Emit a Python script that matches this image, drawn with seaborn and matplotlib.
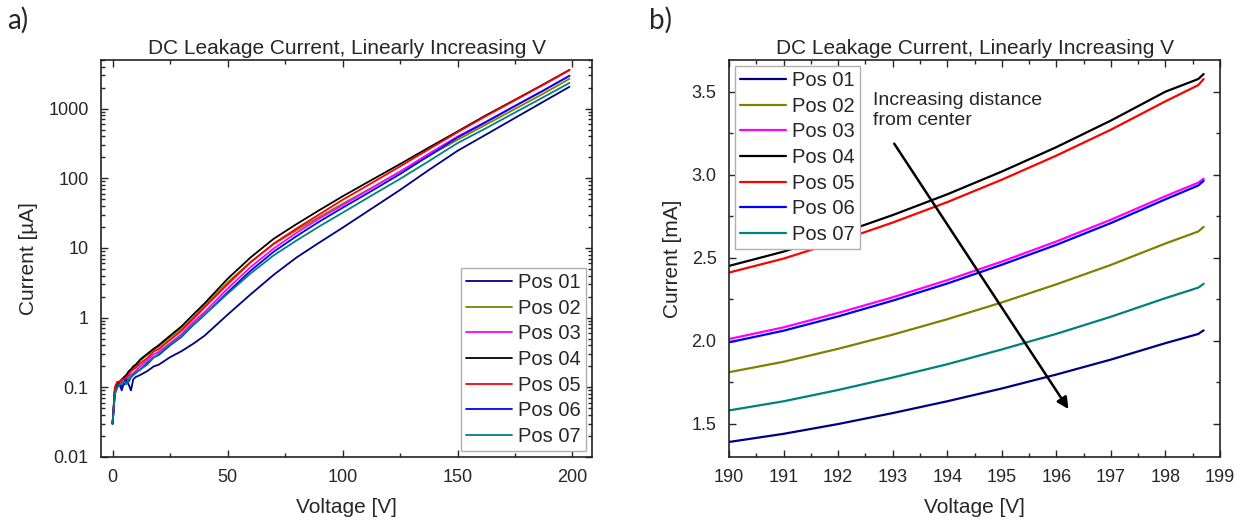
import numpy as np
import pandas as pd
import matplotlib
matplotlib.use("Agg")
import matplotlib.pyplot as plt
from matplotlib.ticker import MultipleLocator, LogLocator, NullFormatter, FixedLocator, FormatStrFormatter
import seaborn as sns

## positions and colours (Origin style)
positions = ["Pos 01", "Pos 02", "Pos 03", "Pos 04", "Pos 05", "Pos 06", "Pos 07"]
colors = ["#000080", "#808000", "#FF00FF", "#000000", "#FF0000", "#0000FF", "#008080"]

## a) full sweep, current in uA
volt_a = [0, 1, 2, 3, 4, 5, 6, 7, 8, 9, 10, 12, 15, 18, 20, 25, 30, 35, 40, 50, 60, 70, 80, 90, 100,
          112, 125, 137, 150, 162, 175, 187, 198.7]
cur_a_pos01 = [0.03, 0.09, 0.10, 0.12, 0.10, 0.11, 0.12, 0.11, 0.09, 0.13, 0.14, 0.15, 0.17, 0.20, 0.21, 0.27, 0.33, 0.42, 0.55,
               1.1, 2.15, 4.1, 7.3, 12.0, 19.5, 35.5, 68, 128, 248, 417, 735, 1240, 2060]
cur_a_pos02 = [0.03, 0.09, 0.11, 0.12, 0.12, 0.14, 0.15, 0.16, 0.18, 0.19, 0.20, 0.24, 0.29, 0.35, 0.38, 0.52, 0.70, 1.0, 1.5,
               3.2, 6.3, 11.3, 18, 28, 43, 71, 124, 205, 357, 582, 990, 1620, 2680]
cur_a_pos03 = [0.03, 0.09, 0.10, 0.11, 0.12, 0.12, 0.13, 0.14, 0.15, 0.16, 0.17, 0.20, 0.24, 0.30, 0.32, 0.43, 0.58, 0.85, 1.2,
               2.6, 5.3, 9.8, 16.5, 26.5, 41, 70, 125, 220, 398, 640, 1100, 1800, 2970]
cur_a_pos04 = [0.03, 0.09, 0.11, 0.12, 0.13, 0.14, 0.15, 0.17, 0.18, 0.20, 0.21, 0.25, 0.30, 0.36, 0.40, 0.55, 0.75, 1.1, 1.6,
               3.6, 7.3, 13.5, 22, 35, 55, 92, 160, 270, 470, 790, 1340, 2200, 3600]
cur_a_pos05 = [0.03, 0.10, 0.12, 0.12, 0.13, 0.13, 0.14, 0.15, 0.17, 0.18, 0.19, 0.22, 0.26, 0.33, 0.35, 0.48, 0.65, 0.95, 1.4,
               3.0, 6.2, 11.5, 19, 30.5, 49, 83, 148, 255, 458, 770, 1320, 2170, 3570]
cur_a_pos06 = [0.03, 0.08, 0.10, 0.11, 0.09, 0.12, 0.13, 0.12, 0.14, 0.15, 0.16, 0.18, 0.22, 0.27, 0.29, 0.40, 0.53, 0.78, 1.1,
               2.3, 4.7, 8.8, 14.8, 24, 37.7, 64, 115, 205, 385, 630, 1090, 1790, 2960]
cur_a_pos07 = [0.03, 0.08, 0.10, 0.11, 0.11, 0.12, 0.11, 0.13, 0.14, 0.15, 0.16, 0.18, 0.21, 0.27, 0.30, 0.41, 0.54, 0.78, 1.1,
               2.2, 4.3, 7.8, 12.8, 20.5, 32, 55, 98, 172, 320, 515, 880, 1440, 2340]

## b) zoom on the end of the sweep, current in mA
volt_b = [190, 191, 192, 193, 194, 195, 196, 197, 198, 198.6, 198.7]
cur_b_pos01 = [1.390, 1.439, 1.498, 1.564, 1.635, 1.712, 1.796, 1.886, 1.985, 2.040, 2.062]
cur_b_pos02 = [1.810, 1.873, 1.951, 2.036, 2.129, 2.230, 2.339, 2.456, 2.585, 2.657, 2.685]
cur_b_pos03 = [2.010, 2.080, 2.167, 2.261, 2.364, 2.476, 2.597, 2.728, 2.870, 2.951, 2.975]
cur_b_pos04 = [2.450, 2.536, 2.641, 2.756, 2.881, 3.018, 3.165, 3.325, 3.499, 3.575, 3.605]
cur_b_pos05 = [2.410, 2.494, 2.598, 2.711, 2.834, 2.969, 3.114, 3.270, 3.441, 3.538, 3.575]
cur_b_pos06 = [1.990, 2.060, 2.146, 2.241, 2.344, 2.457, 2.577, 2.708, 2.851, 2.934, 2.962]
cur_b_pos07 = [1.580, 1.635, 1.703, 1.778, 1.858, 1.947, 2.041, 2.144, 2.256, 2.319, 2.342]

cur_a = [cur_a_pos01, cur_a_pos02, cur_a_pos03, cur_a_pos04, cur_a_pos05, cur_a_pos06, cur_a_pos07]
cur_b = [cur_b_pos01, cur_b_pos02, cur_b_pos03, cur_b_pos04, cur_b_pos05, cur_b_pos06, cur_b_pos07]

## long format tables for seaborn
df_a = pd.concat([pd.DataFrame({"V": volt_a, "I": c, "pos": p}) for p, c in zip(positions, cur_a)])
df_b = pd.concat([pd.DataFrame({"V": volt_b, "I": c, "pos": p}) for p, c in zip(positions, cur_b)])

sns.set_style("ticks")
plt.rcParams["font.family"] = ["Liberation Sans", "DejaVu Sans"]

fig = plt.figure(figsize=(12.43, 5.24), dpi=100)
ax1 = fig.add_axes([0.0813, 0.128, 0.395, 0.7576])
ax2 = fig.add_axes([0.5865, 0.128, 0.395, 0.7576])

pal = dict(zip(positions, colors))
sns.lineplot(data=df_a, x="V", y="I", hue="pos", palette=pal, ax=ax1, lw=1.3, sort=False)
sns.lineplot(data=df_b, x="V", y="I", hue="pos", palette=pal, ax=ax2, lw=1.6, sort=False)

title = "DC Leakage Current, Linearly Increasing V"
leg_kw = dict(fontsize=14.5, frameon=True, fancybox=False, edgecolor="#b0b0b0", framealpha=1,
              handlelength=2.3, handletextpad=0.3, borderpad=0.25, labelspacing=0.33)

## a) axes
ax1.set_yscale("log")
ax1.set_xlim(-5, 208.5)
ax1.set_ylim(0.01, 5000)
ax1.xaxis.set_major_locator(MultipleLocator(50))
ax1.xaxis.set_minor_locator(MultipleLocator(25))
ax1.yaxis.set_major_locator(FixedLocator([0.01, 0.1, 1, 10, 100, 1000]))
ax1.yaxis.set_minor_locator(LogLocator(base=10, subs=np.arange(2, 10)))
ax1.yaxis.set_minor_formatter(NullFormatter())
ax1.set_yticklabels(["0.01", "0.1", "1", "10", "100", "1000"])
ax1.set_xlabel("Voltage [V]", fontsize=15, labelpad=8)
ax1.set_ylabel("Current [µA]", fontsize=15, labelpad=7)
ax1.set_title(title, fontsize=15, pad=4)
ax1.legend(loc="lower right", borderaxespad=0.3, **leg_kw)

## b) axes
ax2.set_xlim(190, 199)
ax2.set_ylim(1.30, 3.69)
ax2.xaxis.set_major_locator(MultipleLocator(1))
ax2.xaxis.set_minor_locator(MultipleLocator(0.5))
ax2.yaxis.set_major_locator(MultipleLocator(0.5))
ax2.yaxis.set_minor_locator(MultipleLocator(0.25))
ax2.yaxis.set_major_formatter(FormatStrFormatter("%.1f"))
ax2.set_xlabel("Voltage [V]", fontsize=15, labelpad=8)
ax2.set_ylabel("Current [mA]", fontsize=15, labelpad=7)
ax2.set_title(title, fontsize=15, pad=4)
ax2.legend(loc="upper left", borderaxespad=0.3, **leg_kw)

ax2.text(192.64, 3.50, "Increasing distance\nfrom center", fontsize=14, va="top", ha="left", linespacing=1.3)
ax2.annotate("", xy=(196.25, 1.574), xytext=(193.0, 3.2),
             arrowprops=dict(arrowstyle="-|>", color="black", lw=1.8, mutation_scale=17))

for ax in (ax1, ax2):
    ax.tick_params(which="both", direction="in", top=True, right=True, labelsize=13, pad=9)
    ax.tick_params(which="major", length=5, width=1)
    ax.tick_params(which="minor", length=3, width=1)
    for s in ax.spines.values():
        s.set_linewidth(1.2)
        s.set_color("#222222")

fig.text(0.006, 0.962, "a)", fontsize=20, family=["Lato", "DejaVu Sans"], va="center")
fig.text(0.522, 0.962, "b)", fontsize=20, family=["Lato", "DejaVu Sans"], va="center")

fig.savefig("out.png", dpi=100)
